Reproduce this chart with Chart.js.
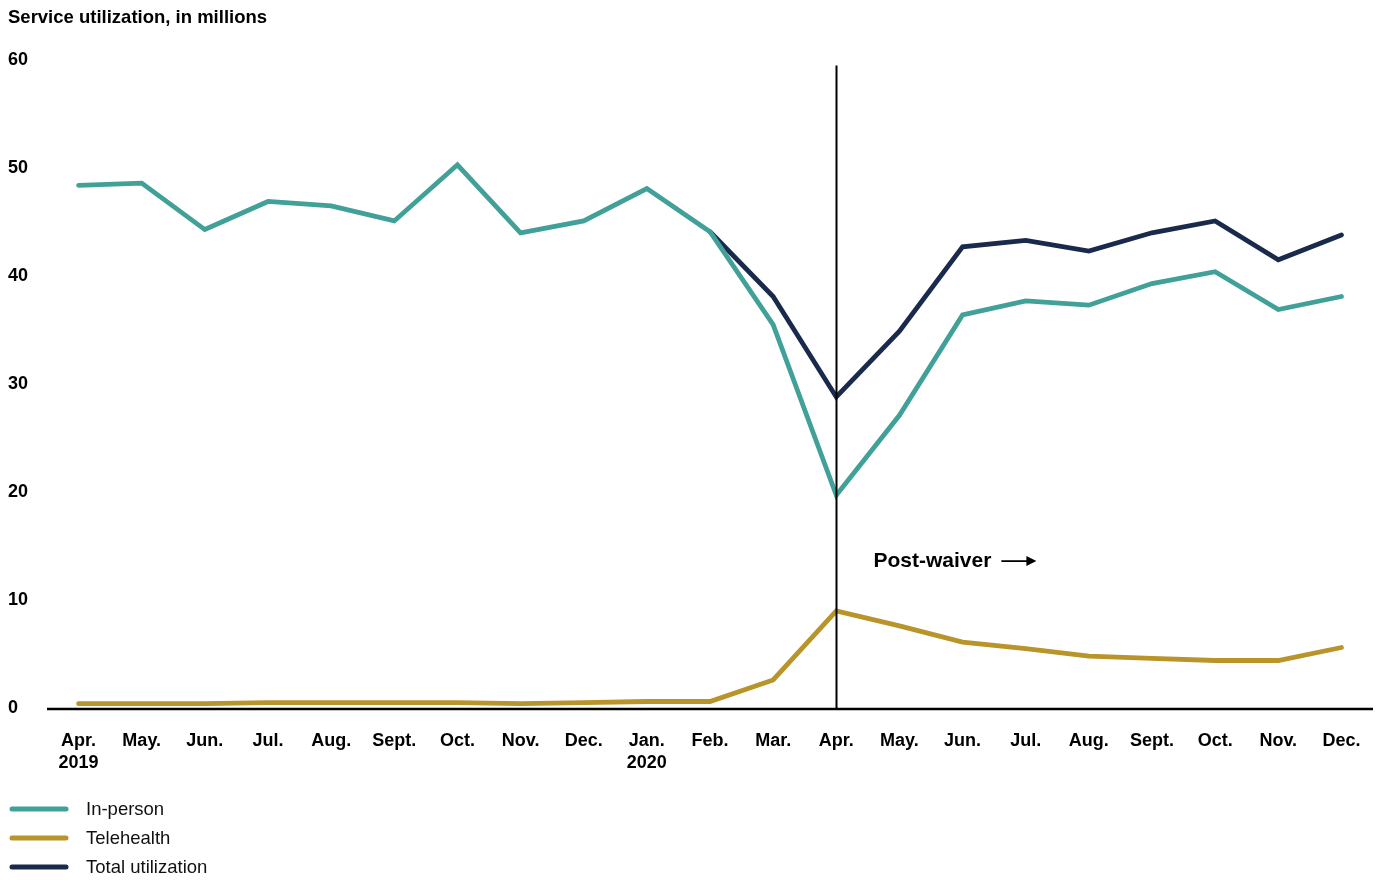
<!DOCTYPE html>
<html>
<head>
<meta charset="utf-8">
<script src="https://cdn.jsdelivr.net/npm/chart.js@4/dist/chart.umd.min.js"></script>
<style>
html,body{margin:0;padding:0;background:#fff;}
#wrap{position:relative;width:1378px;height:880px;}
</style>
</head>
<body>
<div id="wrap"><canvas id="c" width="1378" height="880"></canvas></div>
<script>
const categories = [
  ["Apr.","2019"],"May.","Jun.","Jul.","Aug.","Sept.","Oct.","Nov.","Dec.",
  ["Jan.","2020"],"Feb.","Mar.","Apr.","May.","Jun.","Jul.","Aug.","Sept.","Oct.","Nov.","Dec."
];
const inPerson = [48.4,48.6,44.3,46.9,46.5,45.1,50.3,44.0,45.1,48.1,44.1,35.5,19.7,27.1,36.4,37.7,37.3,39.3,40.4,36.9,38.1];
const telehealth = [0.4,0.4,0.4,0.5,0.5,0.5,0.5,0.4,0.5,0.6,0.6,2.6,9.0,7.6,6.1,5.5,4.8,4.6,4.4,4.4,5.6];
const totalUtil = [null,null,null,null,null,null,null,null,null,null,44.1,38.1,28.8,34.9,42.7,43.3,42.3,44.0,45.1,41.5,43.8];
const yTicks = [0,10,20,30,40,50,60];
const seriesNames = ["In-person","Telehealth","Total utilization"];
const seriesColors = ["#41a097","#b8942b","#1a2a4c"];
const title = "Service utilization, in millions";
const waiverIndex = 12;
const waiverLabel = "Post-waiver";

const FONT = "'Liberation Sans', Arial, sans-serif";

const extras = {
  id: 'extras',
  afterDatasetsDraw(chart) {
    const ctx = chart.ctx;
    const xs = chart.scales.x, ys = chart.scales.y;
    const x = Math.round(xs.getPixelForValue(waiverIndex)) + 0.5;
    ctx.save();
    ctx.strokeStyle = '#000';
    ctx.lineWidth = 2;
    ctx.beginPath();
    ctx.moveTo(x, ys.getPixelForValue(59.5));
    ctx.lineTo(x, ys.getPixelForValue(0));
    ctx.stroke();
    // annotation
    ctx.fillStyle = '#000';
    ctx.font = "bold 21px " + FONT;
    ctx.textBaseline = 'middle';
    ctx.textAlign = 'left';
    const ty = ys.getPixelForValue(13.6);
    const tx = x + 37;
    ctx.fillText(waiverLabel, tx, ty);
    const w = ctx.measureText(waiverLabel).width;
    const ax0 = tx + w + 10, ax1 = ax0 + 35;
    ctx.lineWidth = 1.8;
    ctx.beginPath();
    ctx.moveTo(ax0, ty); ctx.lineTo(ax1 - 6, ty); ctx.stroke();
    ctx.beginPath();
    ctx.moveTo(ax1, ty); ctx.lineTo(ax1 - 10, ty - 5); ctx.lineTo(ax1 - 10, ty + 5); ctx.closePath(); ctx.fill();
    // x axis line
    ctx.strokeStyle = '#000';
    ctx.lineWidth = 2.5;
    ctx.beginPath();
    const yb = ys.getPixelForValue(0) + 1;
    ctx.moveTo(chart.chartArea.left, yb);
    ctx.lineTo(chart.chartArea.right, yb);
    ctx.stroke();
    ctx.restore();
  },
  afterDraw(chart) {
    const ctx = chart.ctx;
    ctx.save();
    ctx.fillStyle = '#000';
    ctx.font = "bold 18.5px " + FONT;
    ctx.textBaseline = 'middle';
    ctx.textAlign = 'left';
    ctx.fillText(title, 8, 18);
    // legend
    ctx.font = "18.5px " + FONT;
    chart.data.datasets.forEach((ds, i) => {
      const y = 809 + i * 29;
      ctx.strokeStyle = ds.borderColor;
      ctx.lineWidth = 5;
      ctx.lineCap = 'round';
      ctx.beginPath();
      ctx.moveTo(12, y); ctx.lineTo(66, y); ctx.stroke();
      ctx.fillStyle = '#111';
      ctx.fillText(ds.label, 86, y + 1);
    });
    ctx.restore();
  }
};

new Chart(document.getElementById('c'), {
  type: 'line',
  data: {
    labels: categories,
    datasets: [
      {label: seriesNames[0], data: inPerson, borderColor: seriesColors[0], backgroundColor: seriesColors[0]},
      {label: seriesNames[1], data: telehealth, borderColor: seriesColors[1], backgroundColor: seriesColors[1]},
      {label: seriesNames[2], data: totalUtil, borderColor: seriesColors[2], backgroundColor: seriesColors[2]}
    ].map(d => Object.assign(d, {borderWidth: 4.8, pointRadius: 0, tension: 0, fill: false, borderJoinStyle: 'miter', borderCapStyle: 'round'}))
  },
  options: {
    responsive: false,
    animation: false,
    devicePixelRatio: 1,
    layout: {padding: {left: 8, right: 5, top: 60, bottom: 102}},
    plugins: {legend: {display: false}, tooltip: {enabled: false}},
    scales: {
      x: {
        offset: true,
        grid: {display: false, drawTicks: false},
        border: {display: false},
        ticks: {color: '#000', font: {family: FONT, weight: 'bold', size: 18, lineHeight: 1.22}, padding: 22, maxRotation: 0, autoSkip: false},
        afterFit(s) { s.height = 70; s.paddingLeft = 0; s.paddingRight = 0; }
      },
      y: {
        min: 0, max: 60,
        afterBuildTicks(s) { s.ticks = yTicks.map(v => ({value: v})); },
        grid: {display: false, drawTicks: false},
        border: {display: false},
        ticks: {color: '#000', crossAlign: 'far', padding: 0, font: {family: FONT, weight: 'bold', size: 18}},
        afterFit(s) { s.width = 39; s.paddingTop = 0; s.paddingBottom = 0; }
      }
    }
  },
  plugins: [extras]
});
</script>
</body>
</html>
